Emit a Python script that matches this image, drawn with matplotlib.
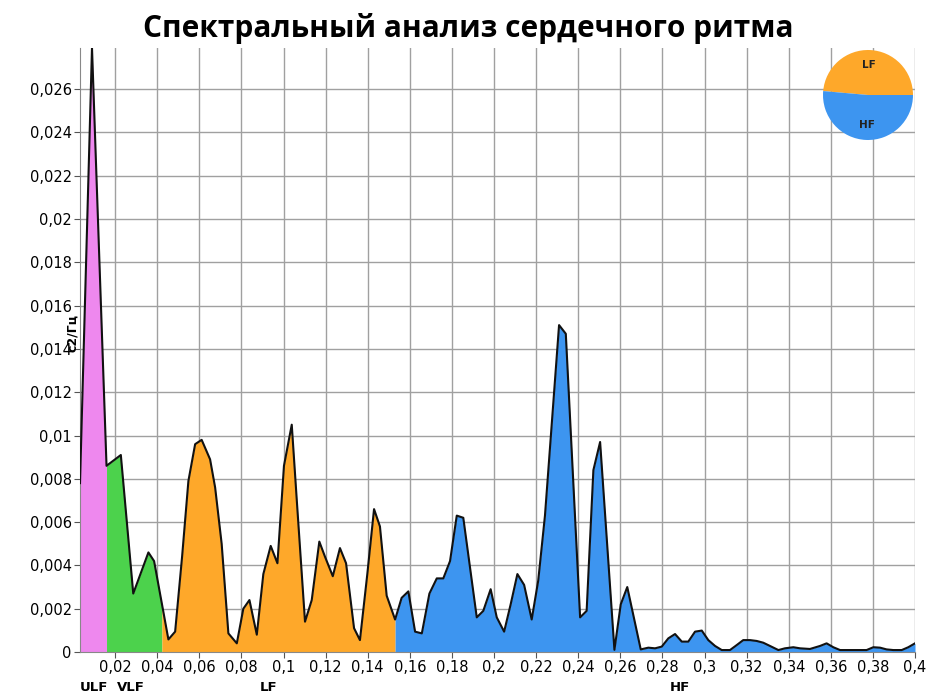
import numpy as np
import matplotlib
matplotlib.use("Agg")
import matplotlib.pyplot as plt
from matplotlib.ticker import FuncFormatter

# spectrum vertices (Hz, s2/Hz)
freq = [0.0033, 0.0090, 0.0159, 0.0227, 0.0286, 0.0358, 0.0385, 0.0453, 0.0485,
        0.0518, 0.0548, 0.0580, 0.0611, 0.0651, 0.0675, 0.0706, 0.0738, 0.0778,
        0.0809, 0.0838, 0.0873, 0.0904, 0.0939, 0.0971, 0.1002, 0.1039, 0.1063,
        0.1102, 0.1134, 0.1170, 0.1197, 0.1234, 0.1268, 0.1297, 0.1335, 0.1363,
        0.1398, 0.1430, 0.1458, 0.1490, 0.1530, 0.1561, 0.1593, 0.1625, 0.1657,
        0.1693, 0.1728, 0.1759, 0.1791, 0.1823, 0.1854, 0.1886, 0.1918, 0.1949,
        0.1984, 0.2013, 0.2048, 0.2079, 0.2111, 0.2143, 0.2179, 0.2210, 0.2242,
        0.2309, 0.2341, 0.2409, 0.2440, 0.2472, 0.2504, 0.2572, 0.2602, 0.2633,
        0.2697, 0.2733, 0.2765, 0.2797, 0.2828, 0.2860, 0.2892, 0.2923, 0.2955,
        0.2987, 0.3018, 0.3050, 0.3082, 0.3121, 0.3153, 0.3184, 0.3216, 0.3248,
        0.3279, 0.3311, 0.3351, 0.3382, 0.3422, 0.3454, 0.3501, 0.3549, 0.3580,
        0.3612, 0.3644, 0.3707, 0.3770, 0.3802, 0.3834, 0.3865, 0.3897, 0.3937,
        0.3968, 0.4000]
power = [0.0078, 0.0279, 0.0086, 0.0091, 0.0027, 0.0046, 0.0042, 0.00058, 0.00094,
         0.0044, 0.0079, 0.0096, 0.0098, 0.0089, 0.0076, 0.0050, 0.00086, 0.0004,
         0.0020, 0.0024, 0.0008, 0.0036, 0.0049, 0.0041, 0.0086, 0.0105, 0.0070,
         0.0014, 0.0024, 0.0051, 0.0044, 0.0035, 0.0048, 0.0041, 0.0011, 0.00055,
         0.0036, 0.0066, 0.0058, 0.0026, 0.0015, 0.0025, 0.0028, 0.00094, 0.00086,
         0.0027, 0.0034, 0.0034, 0.0042, 0.0063, 0.0062, 0.0039, 0.0016, 0.0019,
         0.0029, 0.0016, 0.00094, 0.0022, 0.0036, 0.0031, 0.0015, 0.0033, 0.0063,
         0.0151, 0.0147, 0.0016, 0.0019, 0.0084, 0.0097, 0.0001, 0.0022, 0.0030,
         0.00012, 0.0002, 0.00017, 0.00025, 0.00063, 0.00083, 0.00048, 0.00048, 0.00094,
         0.00099, 0.00055, 0.00028, 0.00009, 0.00009, 0.00032, 0.00055, 0.00055, 0.00051,
         0.00043, 0.00028, 0.00009, 0.00017, 0.00022, 0.00017, 0.00014, 0.00028, 0.0004,
         0.00022, 0.00009, 0.00009, 0.00009, 0.00022, 0.0002, 0.00012, 0.00009, 0.00009,
         0.00022, 0.0004]

band_names = ["ULF", "VLF", "LF", "HF"]
band_edges = [0.0033, 0.0159, 0.0422, 0.1530, 0.4000]
band_colors = ["#ee88ee", "#4cd24c", "#fea82a", "#3d95f0"]

pie_names = ["LF", "HF"]
pie_share = [48.6, 51.4]

xticks = np.arange(0.02, 0.401, 0.02)
yticks = np.arange(0, 0.0261, 0.002)


def comma_fmt(v, pos=None):
    s = ("%.3f" % v).rstrip("0").rstrip(".")
    return s.replace(".", ",")


fig = plt.figure(figsize=(9.29, 6.93), dpi=100)
ax = fig.add_axes([80 / 929, 41 / 693, 835 / 929, 604 / 693])

# densify at band edges so each band fills up to its boundary
x = np.array(freq)
y = np.array(power)
xd = np.union1d(x, band_edges)
yd = np.interp(xd, x, y)
for i, c in enumerate(band_colors):
    m = (xd >= band_edges[i]) & (xd <= band_edges[i + 1])
    ax.fill_between(xd[m], 0, yd[m], color=c, lw=0, zorder=2)
ax.plot(x, y, color="#111111", lw=1.5, zorder=3)

ax.set_xlim(0.0033, 0.4)
ax.set_ylim(0, 0.0279)
ax.set_xticks(xticks)
ax.set_yticks(yticks)
ax.xaxis.set_major_formatter(FuncFormatter(comma_fmt))
ax.yaxis.set_major_formatter(FuncFormatter(comma_fmt))
ax.tick_params(labelsize=10.5, length=4, color="#555555", pad=2)
ax.grid(True, color="#a0a0a0", lw=1, zorder=0)
ax.set_axisbelow(True)
for s in ["top", "right"]:
    ax.spines[s].set_visible(False)
for s in ["left", "bottom"]:
    ax.spines[s].set_color("#888888")

# band labels under the tick labels
band_label_x = [80, 117, 260, 670]
for name, px in zip(band_names, band_label_x):
    fig.text(px / 929, 1 - 681 / 693, name, ha="left", va="top",
             fontsize=9.5, fontweight="bold")

fig.text(73 / 929, 1 - 333 / 693, "с2/Гц", rotation=90, ha="center", va="center",
         fontsize=9, fontweight="bold")

fig.text(468 / 929, 1 - 28 / 693, "Спектральный анализ сердечного ритма",
         ha="center", va="center", fontsize=21.5, fontweight="bold",
         family="Open Sans")

# LF/HF share pie in the corner
pax = fig.add_axes([823 / 929, 1 - 140 / 693, 90 / 929, 90 / 693])
wedges, texts = pax.pie(pie_share, colors=band_colors[2:], labels=pie_names,
                        startangle=0, labeldistance=0.67,
                        textprops=dict(fontsize=7.5, fontweight="bold",
                                       color="#222222", ha="center", va="center"))
pax.set_xlim(-1, 1)
pax.set_ylim(-1, 1)
pax.set_aspect("equal")

fig.savefig("out.png", dpi=100)
